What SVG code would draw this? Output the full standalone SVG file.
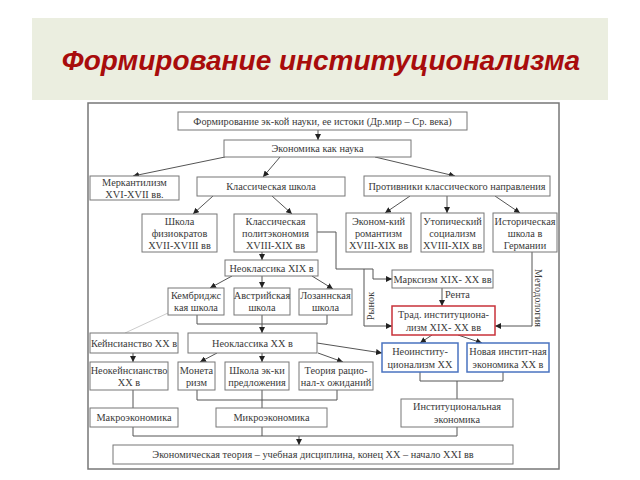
<svg xmlns="http://www.w3.org/2000/svg" width="640" height="480" viewBox="0 0 640 480">
<defs>
<marker id="ah" markerWidth="6" markerHeight="6" refX="6" refY="3" orient="auto" markerUnits="userSpaceOnUse">
<path d="M0,0 L6,3 L0,6 z" fill="#222"/>
</marker>
<style>
.b{fill:#fff;stroke:#777;stroke-width:1}
.red{fill:#fff;stroke:#C8323A;stroke-width:1.5}
.blue{fill:#fff;stroke:#4A73C0;stroke-width:1.5}
.t{font-family:"Liberation Serif","Times New Roman",serif;font-size:10.3px;fill:#3a3a3a;text-anchor:middle}
.c{fill:none;stroke:#555;stroke-width:1}
.a{fill:none;stroke:#555;stroke-width:1;marker-end:url(#ah)}
</style>
</defs>
<rect width="640" height="480" fill="#fff"/>
<rect x="32" y="18" width="576" height="82" fill="#EBEEE0"/>
<text x="321" y="70" font-family="Liberation Sans,Arial,sans-serif" font-size="28" font-weight="bold" font-style="italic" fill="#A80C0C" text-anchor="middle">Формирование институционализма</text>
<rect x="88" y="103" width="471" height="366" fill="#fff" stroke="#777" stroke-width="1.5"/>

<g id="connectors">
<path class="a" d="M318,130 V140"/>
<path class="a" d="M225,157 L133,176"/>
<path class="a" d="M280,157 L263,177"/>
<path class="a" d="M375,157 L455,176"/>
<path class="a" d="M213,196 L193,214"/>
<path class="a" d="M272,196 L292,214"/>
<path class="a" d="M410,196 L385,213"/>
<path class="a" d="M447,196 V213"/>
<path class="a" d="M495,196 L520,213"/>
<path class="a" d="M262,252 V260"/>
<path class="a" d="M317,232 H336 V269 H373 V279 H392"/>
<path class="a" d="M364,269 V326 H392"/>
<path class="a" d="M442,288 V306"/>
<path class="a" d="M532,252 V326 H495"/>
<path class="a" d="M232,276 L210,288"/>
<path class="a" d="M262,276 V288"/>
<path class="a" d="M312,276 L333,289"/>
<path class="c" d="M197,315 V324 H327 V315"/>
<path class="a" d="M262,315 V333"/>
<path d="M168,313 L125,333" stroke="#ccc" stroke-width="1" fill="none"/>
<path class="a" d="M133,353 V362"/>
<path class="a" d="M217,353 L200,362"/>
<path class="a" d="M262,353 V362"/>
<path class="a" d="M318,353 L343,362"/>
<path class="a" d="M317,343 L382,353"/>
<path class="a" d="M432,335 L420,343"/>
<path class="a" d="M458,335 L482,343"/>
<path class="c" d="M197,390 V400 H337 V390 M262,390 V408"/>
<path class="c" d="M133,390 V408"/>
<path class="c" d="M420,372 V381 H503 V372 M457,381 V399"/>
<path class="c" d="M133,427 V436 H457 V427 M262,427 V436"/>
<path class="a" d="M299,436 V445"/>
</g>

<g id="n-origins"><rect class="b" x="178" y="112" width="289" height="18"/><text class="t" x="322.5" y="124.5">Формирование эк-кой науки, ее истоки (Др.мир – Ср. века)</text></g>
<g id="n-science"><rect class="b" x="224" y="140" width="187" height="17"/><text class="t" x="317.5" y="152">Экономика как наука</text></g>
<g id="n-merc"><rect class="b" x="90" y="176" width="89" height="24"/><text class="t" x="134.5" y="186">Меркантилизм</text><text class="t" x="134.5" y="197.5">XVI-XVII вв.</text></g>
<g id="n-classic"><rect class="b" x="197" y="177" width="148" height="19"/><text class="t" x="271" y="190">Классическая школа</text></g>
<g id="n-opp"><rect class="b" x="364" y="176" width="186" height="20"/><text class="t" x="457" y="190">Противники классического направления</text></g>
<g id="n-phys"><rect class="b" x="142" y="214" width="75" height="38"/><text class="t" x="179.5" y="225">Школа</text><text class="t" x="179.5" y="237">физиократов</text><text class="t" x="179.5" y="249">XVII-XVIII вв</text></g>
<g id="n-polit"><rect class="b" x="234" y="214" width="83" height="38"/><text class="t" x="275.5" y="225">Классическая</text><text class="t" x="275.5" y="237">политэкономия</text><text class="t" x="275.5" y="249">XVIII-XIX вв</text></g>
<g id="n-romant"><rect class="b" x="346" y="213" width="65" height="39"/><text class="t" x="378.5" y="225">Эконом-кий</text><text class="t" x="378.5" y="237">романтизм</text><text class="t" x="378.5" y="249">XVIII-XIX вв</text></g>
<g id="n-utop"><rect class="b" x="421" y="213" width="63" height="39"/><text class="t" x="452.5" y="225">Утопический</text><text class="t" x="452.5" y="237">социализм</text><text class="t" x="452.5" y="249">XVIII-XIX вв</text></g>
<g id="n-hist"><rect class="b" x="493" y="213" width="64" height="39"/><text class="t" x="525" y="225">Историческая</text><text class="t" x="525" y="237">школа в</text><text class="t" x="525" y="249">Германии</text></g>
<g id="n-neo19"><rect class="b" x="225" y="260" width="93" height="16"/><text class="t" x="271.5" y="271.5">Неоклассика XIX в</text></g>
<g id="n-marx"><rect class="b" x="392" y="270" width="101" height="18"/><text class="t" x="442.5" y="282.5">Марксизм XIX- XX вв</text></g>
<g id="n-camb"><rect class="b" x="168" y="288" width="56" height="27"/><text class="t" x="196" y="299">Кембриджс</text><text class="t" x="196" y="311">кая школа</text></g>
<g id="n-austr"><rect class="b" x="234" y="288" width="56" height="27"/><text class="t" x="262" y="299">Австрийская</text><text class="t" x="262" y="311">школа</text></g>
<g id="n-laus"><rect class="b" x="299" y="289" width="53" height="26"/><text class="t" x="325.5" y="299">Лозаннская</text><text class="t" x="325.5" y="311">школа</text></g>
<g id="n-trad"><rect class="red" x="392" y="306" width="103" height="29"/><text class="t" x="443.5" y="318">Трад. институциона-</text><text class="t" x="443.5" y="331">лизм  XIX- XX вв</text></g>
<g id="n-keyn"><rect class="b" x="90" y="333" width="88" height="20"/><text class="t" x="134" y="346.5">Кейнсианство XX в</text></g>
<g id="n-neo20"><rect class="b" x="188" y="333" width="129" height="20"/><text class="t" x="252.5" y="346.5">Неоклассика XX в</text></g>
<g id="n-neoinst"><rect class="blue" x="382" y="343" width="76" height="29"/><text class="t" x="420" y="355">Неоинститу-</text><text class="t" x="420" y="368">ционализм  XX</text></g>
<g id="n-newinst"><rect class="blue" x="467" y="343" width="82" height="29"/><text class="t" x="508" y="355">Новая инстит-ная</text><text class="t" x="508" y="368">экономика  XX в</text></g>
<g id="n-neokeyn"><rect class="b" x="90" y="362" width="78" height="28"/><text class="t" x="129" y="374">Неокейнсианство</text><text class="t" x="129" y="386">XX в</text></g>
<g id="n-monet"><rect class="b" x="178" y="362" width="37" height="28"/><text class="t" x="196.5" y="374">Монета</text><text class="t" x="196.5" y="386">ризм</text></g>
<g id="n-supply"><rect class="b" x="225" y="362" width="64" height="28"/><text class="t" x="257" y="374">Школа эк-ки</text><text class="t" x="257" y="386">предложения</text></g>
<g id="n-ratexp"><rect class="b" x="299" y="362" width="74" height="28"/><text class="t" x="336" y="374">Теория рацио-</text><text class="t" x="336" y="386">нал-х ожиданий</text></g>
<g id="n-macro"><rect class="b" x="90" y="408" width="88" height="19"/><text class="t" x="134" y="421">Макроэкономика</text></g>
<g id="n-micro"><rect class="b" x="216" y="408" width="111" height="19"/><text class="t" x="271.5" y="421">Микроэкономика</text></g>
<g id="n-instec"><rect class="b" x="401" y="399" width="112" height="28"/><text class="t" x="457" y="410">Институциональная</text><text class="t" x="457" y="423">экономика</text></g>
<g id="n-theory"><rect class="b" x="113" y="445" width="400" height="19"/><text class="t" x="313" y="458">Экономическая теория – учебная дисциплина, конец XX – начало XXI вв</text></g>

<g id="labels">
<text class="t" x="445" y="298" style="text-anchor:start">Рента</text>
<text class="t" transform="translate(374,306) rotate(-90)">Рынок</text>
<text class="t" transform="translate(535,298) rotate(90)">Методология</text>
</g>
</svg>
